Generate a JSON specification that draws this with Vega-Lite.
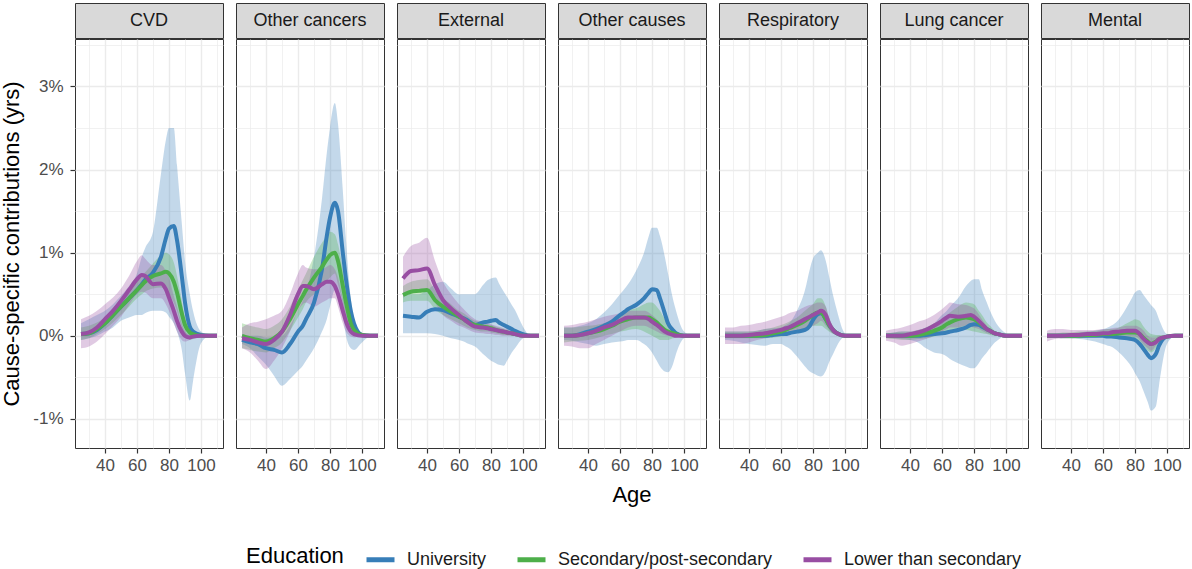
{
  "$schema": "https://vega.github.io/schema/vega-lite/v6.json",
  "padding": {"left": 0, "top": 2, "right": 2, "bottom": 2},
  "config": {
    "font": "Liberation Sans",
    "view": {"stroke": "#333333", "strokeWidth": 1},
    "axis": {"domain": false, "gridColor": "#EBEBEB", "tickColor": "#333333", "tickSize": 5, "tickWidth": 1.2, "labelColor": "#4D4D4D", "labelFontSize": 17, "labelFont": "Liberation Sans", "titleFont": "Liberation Sans", "titleFontSize": 22, "titleFontWeight": "normal", "titleColor": "#000000"},
    "legend": {"direction": "horizontal", "titleOrient": "left", "titleFontSize": 22, "titleFontWeight": "normal", "titleColor": "#000000", "titleFont": "Liberation Sans", "labelFont": "Liberation Sans", "labelFontSize": 18, "labelColor": "#1A1A1A", "labelLimit": 0, "symbolType": "stroke", "symbolSize": 784, "symbolStrokeWidth": 5, "symbolOpacity": 1, "columnPadding": 20, "labelOffset": 10, "titlePadding": 20}
  },
  "datasets": {
    "strips": [{"c": "CVD"}, {"c": "Other cancers"}, {"c": "External"}, {"c": "Other causes"}, {"c": "Respiratory"}, {"c": "Lung cancer"}, {"c": "Mental"}],
    "d": [
{"c":"CVD","e":"U","a":25,"y":0.02,"lo":-0.05,"hi":0.15},
{"c":"CVD","e":"U","a":30,"y":0.03,"lo":-0.03,"hi":0.2},
{"c":"CVD","e":"U","a":35,"y":0.07,"lo":0,"hi":0.25},
{"c":"CVD","e":"U","a":40,"y":0.15,"lo":0.05,"hi":0.3},
{"c":"CVD","e":"U","a":45,"y":0.25,"lo":0.1,"hi":0.38},
{"c":"CVD","e":"U","a":50,"y":0.35,"lo":0.18,"hi":0.48},
{"c":"CVD","e":"U","a":55,"y":0.45,"lo":0.22,"hi":0.6},
{"c":"CVD","e":"U","a":60,"y":0.55,"lo":0.25,"hi":0.75},
{"c":"CVD","e":"U","a":63,"y":0.62,"lo":0.25,"hi":0.95},
{"c":"CVD","e":"U","a":65,"y":0.67,"lo":0.27,"hi":1.05},
{"c":"CVD","e":"U","a":70,"y":0.76,"lo":0.3,"hi":1.25},
{"c":"CVD","e":"U","a":75,"y":0.95,"lo":0.3,"hi":1.95},
{"c":"CVD","e":"U","a":78,"y":1.17,"lo":0.28,"hi":2.35},
{"c":"CVD","e":"U","a":80,"y":1.29,"lo":0.23,"hi":2.5},
{"c":"CVD","e":"U","a":83,"y":1.32,"lo":0.15,"hi":2.5},
{"c":"CVD","e":"U","a":85,"y":1.15,"lo":0.05,"hi":2.05},
{"c":"CVD","e":"U","a":88,"y":0.72,"lo":-0.17,"hi":1.35},
{"c":"CVD","e":"U","a":90,"y":0.4,"lo":-0.45,"hi":0.9},
{"c":"CVD","e":"U","a":93,"y":0.11,"lo":-0.78,"hi":0.5},
{"c":"CVD","e":"U","a":95,"y":0.05,"lo":-0.55,"hi":0.3},
{"c":"CVD","e":"U","a":100,"y":0.01,"lo":-0.09,"hi":0.05},
{"c":"CVD","e":"U","a":105,"y":0,"lo":-0.01,"hi":0.01},
{"c":"CVD","e":"U","a":110,"y":0,"lo":0,"hi":0},
{"c":"CVD","e":"S","a":25,"y":0.02,"lo":-0.05,"hi":0.1},
{"c":"CVD","e":"S","a":30,"y":0.03,"lo":-0.03,"hi":0.12},
{"c":"CVD","e":"S","a":35,"y":0.08,"lo":0.02,"hi":0.16},
{"c":"CVD","e":"S","a":40,"y":0.15,"lo":0.08,"hi":0.22},
{"c":"CVD","e":"S","a":45,"y":0.25,"lo":0.16,"hi":0.33},
{"c":"CVD","e":"S","a":50,"y":0.35,"lo":0.25,"hi":0.45},
{"c":"CVD","e":"S","a":55,"y":0.45,"lo":0.35,"hi":0.55},
{"c":"CVD","e":"S","a":60,"y":0.55,"lo":0.45,"hi":0.66},
{"c":"CVD","e":"S","a":63,"y":0.61,"lo":0.5,"hi":0.72},
{"c":"CVD","e":"S","a":65,"y":0.65,"lo":0.53,"hi":0.76},
{"c":"CVD","e":"S","a":70,"y":0.72,"lo":0.57,"hi":0.87},
{"c":"CVD","e":"S","a":75,"y":0.75,"lo":0.58,"hi":0.97},
{"c":"CVD","e":"S","a":78,"y":0.77,"lo":0.55,"hi":1.0},
{"c":"CVD","e":"S","a":80,"y":0.75,"lo":0.5,"hi":0.98},
{"c":"CVD","e":"S","a":83,"y":0.65,"lo":0.4,"hi":0.88},
{"c":"CVD","e":"S","a":85,"y":0.52,"lo":0.3,"hi":0.72},
{"c":"CVD","e":"S","a":88,"y":0.27,"lo":0.1,"hi":0.42},
{"c":"CVD","e":"S","a":90,"y":0.13,"lo":0.02,"hi":0.22},
{"c":"CVD","e":"S","a":93,"y":0.04,"lo":-0.05,"hi":0.1},
{"c":"CVD","e":"S","a":95,"y":0.02,"lo":-0.04,"hi":0.06},
{"c":"CVD","e":"S","a":100,"y":0,"lo":-0.01,"hi":0.01},
{"c":"CVD","e":"S","a":105,"y":0,"lo":0,"hi":0},
{"c":"CVD","e":"S","a":110,"y":0,"lo":0,"hi":0},
{"c":"CVD","e":"L","a":25,"y":0.02,"lo":-0.15,"hi":0.2},
{"c":"CVD","e":"L","a":30,"y":0.04,"lo":-0.13,"hi":0.24},
{"c":"CVD","e":"L","a":35,"y":0.1,"lo":-0.07,"hi":0.3},
{"c":"CVD","e":"L","a":40,"y":0.2,"lo":0.02,"hi":0.38},
{"c":"CVD","e":"L","a":45,"y":0.3,"lo":0.12,"hi":0.46},
{"c":"CVD","e":"L","a":50,"y":0.42,"lo":0.23,"hi":0.57},
{"c":"CVD","e":"L","a":55,"y":0.55,"lo":0.37,"hi":0.72},
{"c":"CVD","e":"L","a":60,"y":0.68,"lo":0.5,"hi":0.9},
{"c":"CVD","e":"L","a":63,"y":0.73,"lo":0.53,"hi":0.97},
{"c":"CVD","e":"L","a":65,"y":0.72,"lo":0.52,"hi":0.93},
{"c":"CVD","e":"L","a":70,"y":0.62,"lo":0.45,"hi":0.85},
{"c":"CVD","e":"L","a":75,"y":0.63,"lo":0.45,"hi":0.85},
{"c":"CVD","e":"L","a":78,"y":0.56,"lo":0.38,"hi":0.78},
{"c":"CVD","e":"L","a":80,"y":0.46,"lo":0.3,"hi":0.7},
{"c":"CVD","e":"L","a":83,"y":0.3,"lo":0.15,"hi":0.48},
{"c":"CVD","e":"L","a":85,"y":0.18,"lo":0.05,"hi":0.35},
{"c":"CVD","e":"L","a":88,"y":0.05,"lo":-0.05,"hi":0.15},
{"c":"CVD","e":"L","a":90,"y":0,"lo":-0.07,"hi":0.06},
{"c":"CVD","e":"L","a":93,"y":-0.02,"lo":-0.05,"hi":0.01},
{"c":"CVD","e":"L","a":95,"y":-0.01,"lo":-0.03,"hi":0},
{"c":"CVD","e":"L","a":100,"y":0,"lo":-0.01,"hi":0},
{"c":"CVD","e":"L","a":105,"y":0,"lo":0,"hi":0},
{"c":"CVD","e":"L","a":110,"y":0,"lo":0,"hi":0},
{"c":"Other cancers","e":"U","a":25,"y":-0.05,"lo":-0.1,"hi":0.02},
{"c":"Other cancers","e":"U","a":30,"y":-0.08,"lo":-0.15,"hi":0},
{"c":"Other cancers","e":"U","a":35,"y":-0.1,"lo":-0.25,"hi":0},
{"c":"Other cancers","e":"U","a":40,"y":-0.15,"lo":-0.35,"hi":-0.02},
{"c":"Other cancers","e":"U","a":45,"y":-0.17,"lo":-0.48,"hi":-0.02},
{"c":"Other cancers","e":"U","a":50,"y":-0.2,"lo":-0.6,"hi":0},
{"c":"Other cancers","e":"U","a":55,"y":-0.1,"lo":-0.52,"hi":0.12},
{"c":"Other cancers","e":"U","a":60,"y":0.05,"lo":-0.42,"hi":0.3},
{"c":"Other cancers","e":"U","a":63,"y":0.12,"lo":-0.36,"hi":0.42},
{"c":"Other cancers","e":"U","a":65,"y":0.2,"lo":-0.3,"hi":0.52},
{"c":"Other cancers","e":"U","a":70,"y":0.4,"lo":-0.15,"hi":0.95},
{"c":"Other cancers","e":"U","a":75,"y":0.8,"lo":0.05,"hi":1.65},
{"c":"Other cancers","e":"U","a":78,"y":1.2,"lo":0.2,"hi":2.2},
{"c":"Other cancers","e":"U","a":80,"y":1.42,"lo":0.35,"hi":2.5},
{"c":"Other cancers","e":"U","a":83,"y":1.6,"lo":0.55,"hi":2.8},
{"c":"Other cancers","e":"U","a":85,"y":1.5,"lo":0.45,"hi":2.55},
{"c":"Other cancers","e":"U","a":88,"y":1.0,"lo":0.25,"hi":1.75},
{"c":"Other cancers","e":"U","a":90,"y":0.68,"lo":0,"hi":1.15},
{"c":"Other cancers","e":"U","a":93,"y":0.3,"lo":-0.15,"hi":0.45},
{"c":"Other cancers","e":"U","a":95,"y":0.15,"lo":-0.17,"hi":0.2},
{"c":"Other cancers","e":"U","a":100,"y":0.01,"lo":-0.08,"hi":0.03},
{"c":"Other cancers","e":"U","a":105,"y":0,"lo":-0.01,"hi":0},
{"c":"Other cancers","e":"U","a":110,"y":0,"lo":0,"hi":0},
{"c":"Other cancers","e":"S","a":25,"y":0,"lo":-0.15,"hi":0.15},
{"c":"Other cancers","e":"S","a":30,"y":-0.03,"lo":-0.17,"hi":0.12},
{"c":"Other cancers","e":"S","a":35,"y":-0.05,"lo":-0.19,"hi":0.1},
{"c":"Other cancers","e":"S","a":40,"y":-0.07,"lo":-0.2,"hi":0.08},
{"c":"Other cancers","e":"S","a":45,"y":-0.03,"lo":-0.15,"hi":0.12},
{"c":"Other cancers","e":"S","a":50,"y":0.05,"lo":-0.08,"hi":0.2},
{"c":"Other cancers","e":"S","a":55,"y":0.2,"lo":0.06,"hi":0.35},
{"c":"Other cancers","e":"S","a":60,"y":0.38,"lo":0.22,"hi":0.55},
{"c":"Other cancers","e":"S","a":63,"y":0.48,"lo":0.32,"hi":0.67},
{"c":"Other cancers","e":"S","a":65,"y":0.55,"lo":0.4,"hi":0.75},
{"c":"Other cancers","e":"S","a":70,"y":0.7,"lo":0.5,"hi":0.95},
{"c":"Other cancers","e":"S","a":75,"y":0.83,"lo":0.6,"hi":1.12},
{"c":"Other cancers","e":"S","a":78,"y":0.92,"lo":0.66,"hi":1.2},
{"c":"Other cancers","e":"S","a":80,"y":0.97,"lo":0.7,"hi":1.25},
{"c":"Other cancers","e":"S","a":83,"y":1.0,"lo":0.75,"hi":1.22},
{"c":"Other cancers","e":"S","a":85,"y":0.9,"lo":0.62,"hi":1.1},
{"c":"Other cancers","e":"S","a":88,"y":0.6,"lo":0.4,"hi":0.8},
{"c":"Other cancers","e":"S","a":90,"y":0.4,"lo":0.22,"hi":0.55},
{"c":"Other cancers","e":"S","a":93,"y":0.15,"lo":0.05,"hi":0.25},
{"c":"Other cancers","e":"S","a":95,"y":0.07,"lo":0,"hi":0.15},
{"c":"Other cancers","e":"S","a":100,"y":0.01,"lo":0,"hi":0.02},
{"c":"Other cancers","e":"S","a":105,"y":0,"lo":0,"hi":0},
{"c":"Other cancers","e":"S","a":110,"y":0,"lo":0,"hi":0},
{"c":"Other cancers","e":"L","a":25,"y":-0.03,"lo":-0.15,"hi":0.1},
{"c":"Other cancers","e":"L","a":30,"y":-0.05,"lo":-0.2,"hi":0.15},
{"c":"Other cancers","e":"L","a":35,"y":-0.08,"lo":-0.3,"hi":0.17},
{"c":"Other cancers","e":"L","a":40,"y":-0.1,"lo":-0.4,"hi":0.2},
{"c":"Other cancers","e":"L","a":45,"y":-0.05,"lo":-0.3,"hi":0.24},
{"c":"Other cancers","e":"L","a":50,"y":0.05,"lo":-0.15,"hi":0.3},
{"c":"Other cancers","e":"L","a":55,"y":0.25,"lo":0.05,"hi":0.5},
{"c":"Other cancers","e":"L","a":60,"y":0.5,"lo":0.3,"hi":0.75},
{"c":"Other cancers","e":"L","a":63,"y":0.6,"lo":0.38,"hi":0.85},
{"c":"Other cancers","e":"L","a":65,"y":0.6,"lo":0.4,"hi":0.82},
{"c":"Other cancers","e":"L","a":70,"y":0.56,"lo":0.35,"hi":0.8},
{"c":"Other cancers","e":"L","a":75,"y":0.62,"lo":0.4,"hi":0.8},
{"c":"Other cancers","e":"L","a":78,"y":0.65,"lo":0.43,"hi":0.83},
{"c":"Other cancers","e":"L","a":80,"y":0.65,"lo":0.45,"hi":0.85},
{"c":"Other cancers","e":"L","a":83,"y":0.6,"lo":0.45,"hi":0.8},
{"c":"Other cancers","e":"L","a":85,"y":0.5,"lo":0.35,"hi":0.7},
{"c":"Other cancers","e":"L","a":88,"y":0.3,"lo":0.15,"hi":0.45},
{"c":"Other cancers","e":"L","a":90,"y":0.17,"lo":0.05,"hi":0.3},
{"c":"Other cancers","e":"L","a":93,"y":0.05,"lo":-0.01,"hi":0.12},
{"c":"Other cancers","e":"L","a":95,"y":0.02,"lo":-0.02,"hi":0.05},
{"c":"Other cancers","e":"L","a":100,"y":0,"lo":0,"hi":0},
{"c":"Other cancers","e":"L","a":105,"y":0,"lo":0,"hi":0},
{"c":"Other cancers","e":"L","a":110,"y":0,"lo":0,"hi":0},
{"c":"External","e":"U","a":25,"y":0.24,"lo":0.03,"hi":0.5},
{"c":"External","e":"U","a":30,"y":0.23,"lo":0.03,"hi":0.5},
{"c":"External","e":"U","a":35,"y":0.22,"lo":0.03,"hi":0.5},
{"c":"External","e":"U","a":40,"y":0.29,"lo":0.03,"hi":0.55},
{"c":"External","e":"U","a":45,"y":0.32,"lo":0.02,"hi":0.62},
{"c":"External","e":"U","a":50,"y":0.31,"lo":0,"hi":0.65},
{"c":"External","e":"U","a":55,"y":0.27,"lo":-0.03,"hi":0.57},
{"c":"External","e":"U","a":60,"y":0.23,"lo":-0.05,"hi":0.5},
{"c":"External","e":"U","a":63,"y":0.21,"lo":-0.07,"hi":0.5},
{"c":"External","e":"U","a":65,"y":0.19,"lo":-0.09,"hi":0.5},
{"c":"External","e":"U","a":70,"y":0.13,"lo":-0.13,"hi":0.5},
{"c":"External","e":"U","a":75,"y":0.16,"lo":-0.22,"hi":0.61},
{"c":"External","e":"U","a":78,"y":0.17,"lo":-0.27,"hi":0.67},
{"c":"External","e":"U","a":80,"y":0.18,"lo":-0.3,"hi":0.69},
{"c":"External","e":"U","a":83,"y":0.19,"lo":-0.33,"hi":0.7},
{"c":"External","e":"U","a":85,"y":0.16,"lo":-0.35,"hi":0.63},
{"c":"External","e":"U","a":88,"y":0.13,"lo":-0.36,"hi":0.53},
{"c":"External","e":"U","a":90,"y":0.11,"lo":-0.3,"hi":0.47},
{"c":"External","e":"U","a":93,"y":0.08,"lo":-0.2,"hi":0.37},
{"c":"External","e":"U","a":95,"y":0.06,"lo":-0.15,"hi":0.31},
{"c":"External","e":"U","a":100,"y":0.02,"lo":-0.03,"hi":0.11},
{"c":"External","e":"U","a":105,"y":0,"lo":0,"hi":0},
{"c":"External","e":"U","a":110,"y":0,"lo":0,"hi":0},
{"c":"External","e":"S","a":25,"y":0.49,"lo":0.4,"hi":0.6},
{"c":"External","e":"S","a":30,"y":0.53,"lo":0.42,"hi":0.65},
{"c":"External","e":"S","a":35,"y":0.54,"lo":0.42,"hi":0.67},
{"c":"External","e":"S","a":40,"y":0.55,"lo":0.42,"hi":0.68},
{"c":"External","e":"S","a":45,"y":0.43,"lo":0.32,"hi":0.55},
{"c":"External","e":"S","a":50,"y":0.35,"lo":0.25,"hi":0.45},
{"c":"External","e":"S","a":55,"y":0.29,"lo":0.2,"hi":0.38},
{"c":"External","e":"S","a":60,"y":0.23,"lo":0.15,"hi":0.3},
{"c":"External","e":"S","a":63,"y":0.2,"lo":0.12,"hi":0.27},
{"c":"External","e":"S","a":65,"y":0.17,"lo":0.1,"hi":0.24},
{"c":"External","e":"S","a":70,"y":0.13,"lo":0.07,"hi":0.18},
{"c":"External","e":"S","a":75,"y":0.11,"lo":0.05,"hi":0.16},
{"c":"External","e":"S","a":78,"y":0.1,"lo":0.05,"hi":0.14},
{"c":"External","e":"S","a":80,"y":0.09,"lo":0.04,"hi":0.13},
{"c":"External","e":"S","a":83,"y":0.07,"lo":0.03,"hi":0.11},
{"c":"External","e":"S","a":85,"y":0.06,"lo":0.02,"hi":0.1},
{"c":"External","e":"S","a":88,"y":0.05,"lo":0.01,"hi":0.08},
{"c":"External","e":"S","a":90,"y":0.04,"lo":0.01,"hi":0.07},
{"c":"External","e":"S","a":93,"y":0.03,"lo":0,"hi":0.05},
{"c":"External","e":"S","a":95,"y":0.02,"lo":0,"hi":0.04},
{"c":"External","e":"S","a":100,"y":0,"lo":0,"hi":0.01},
{"c":"External","e":"S","a":105,"y":0,"lo":0,"hi":0},
{"c":"External","e":"S","a":110,"y":0,"lo":0,"hi":0},
{"c":"External","e":"L","a":25,"y":0.69,"lo":0.45,"hi":0.95},
{"c":"External","e":"L","a":30,"y":0.78,"lo":0.55,"hi":1.08},
{"c":"External","e":"L","a":35,"y":0.79,"lo":0.55,"hi":1.12},
{"c":"External","e":"L","a":40,"y":0.81,"lo":0.55,"hi":1.18},
{"c":"External","e":"L","a":45,"y":0.61,"lo":0.4,"hi":0.9},
{"c":"External","e":"L","a":50,"y":0.43,"lo":0.25,"hi":0.65},
{"c":"External","e":"L","a":55,"y":0.33,"lo":0.18,"hi":0.5},
{"c":"External","e":"L","a":60,"y":0.25,"lo":0.12,"hi":0.38},
{"c":"External","e":"L","a":63,"y":0.2,"lo":0.1,"hi":0.32},
{"c":"External","e":"L","a":65,"y":0.17,"lo":0.08,"hi":0.28},
{"c":"External","e":"L","a":70,"y":0.11,"lo":0.04,"hi":0.2},
{"c":"External","e":"L","a":75,"y":0.1,"lo":0.03,"hi":0.17},
{"c":"External","e":"L","a":78,"y":0.09,"lo":0.02,"hi":0.15},
{"c":"External","e":"L","a":80,"y":0.08,"lo":0.02,"hi":0.14},
{"c":"External","e":"L","a":83,"y":0.07,"lo":0.01,"hi":0.12},
{"c":"External","e":"L","a":85,"y":0.06,"lo":0.01,"hi":0.11},
{"c":"External","e":"L","a":88,"y":0.05,"lo":0,"hi":0.09},
{"c":"External","e":"L","a":90,"y":0.04,"lo":0,"hi":0.08},
{"c":"External","e":"L","a":93,"y":0.03,"lo":0,"hi":0.05},
{"c":"External","e":"L","a":95,"y":0.02,"lo":0,"hi":0.04},
{"c":"External","e":"L","a":100,"y":0,"lo":0,"hi":0.01},
{"c":"External","e":"L","a":105,"y":0,"lo":0,"hi":0},
{"c":"External","e":"L","a":110,"y":0,"lo":0,"hi":0},
{"c":"Other causes","e":"U","a":25,"y":0,"lo":-0.05,"hi":0.1},
{"c":"Other causes","e":"U","a":30,"y":0,"lo":-0.06,"hi":0.1},
{"c":"Other causes","e":"U","a":35,"y":0.02,"lo":-0.08,"hi":0.12},
{"c":"Other causes","e":"U","a":40,"y":0.05,"lo":-0.1,"hi":0.15},
{"c":"Other causes","e":"U","a":45,"y":0.08,"lo":-0.12,"hi":0.2},
{"c":"Other causes","e":"U","a":50,"y":0.12,"lo":-0.1,"hi":0.28},
{"c":"Other causes","e":"U","a":55,"y":0.17,"lo":-0.08,"hi":0.38},
{"c":"Other causes","e":"U","a":60,"y":0.25,"lo":-0.07,"hi":0.5},
{"c":"Other causes","e":"U","a":63,"y":0.29,"lo":-0.06,"hi":0.57},
{"c":"Other causes","e":"U","a":65,"y":0.32,"lo":-0.05,"hi":0.62},
{"c":"Other causes","e":"U","a":70,"y":0.37,"lo":-0.05,"hi":0.78},
{"c":"Other causes","e":"U","a":75,"y":0.45,"lo":-0.1,"hi":1.0},
{"c":"Other causes","e":"U","a":78,"y":0.52,"lo":-0.15,"hi":1.2},
{"c":"Other causes","e":"U","a":80,"y":0.56,"lo":-0.2,"hi":1.3},
{"c":"Other causes","e":"U","a":83,"y":0.55,"lo":-0.3,"hi":1.3},
{"c":"Other causes","e":"U","a":85,"y":0.45,"lo":-0.37,"hi":1.2},
{"c":"Other causes","e":"U","a":88,"y":0.27,"lo":-0.43,"hi":0.95},
{"c":"Other causes","e":"U","a":90,"y":0.15,"lo":-0.44,"hi":0.75},
{"c":"Other causes","e":"U","a":93,"y":0.07,"lo":-0.35,"hi":0.45},
{"c":"Other causes","e":"U","a":95,"y":0.03,"lo":-0.22,"hi":0.3},
{"c":"Other causes","e":"U","a":100,"y":0,"lo":-0.03,"hi":0.05},
{"c":"Other causes","e":"U","a":105,"y":0,"lo":0,"hi":0},
{"c":"Other causes","e":"U","a":110,"y":0,"lo":0,"hi":0},
{"c":"Other causes","e":"S","a":25,"y":0,"lo":-0.08,"hi":0.1},
{"c":"Other causes","e":"S","a":30,"y":0,"lo":-0.07,"hi":0.1},
{"c":"Other causes","e":"S","a":35,"y":0.01,"lo":-0.06,"hi":0.11},
{"c":"Other causes","e":"S","a":40,"y":0.03,"lo":-0.05,"hi":0.12},
{"c":"Other causes","e":"S","a":45,"y":0.05,"lo":-0.03,"hi":0.13},
{"c":"Other causes","e":"S","a":50,"y":0.08,"lo":0,"hi":0.15},
{"c":"Other causes","e":"S","a":55,"y":0.12,"lo":0.02,"hi":0.2},
{"c":"Other causes","e":"S","a":60,"y":0.17,"lo":0.05,"hi":0.25},
{"c":"Other causes","e":"S","a":63,"y":0.19,"lo":0.06,"hi":0.29},
{"c":"Other causes","e":"S","a":65,"y":0.2,"lo":0.07,"hi":0.31},
{"c":"Other causes","e":"S","a":70,"y":0.22,"lo":0.08,"hi":0.33},
{"c":"Other causes","e":"S","a":75,"y":0.22,"lo":0.05,"hi":0.38},
{"c":"Other causes","e":"S","a":78,"y":0.22,"lo":0.02,"hi":0.4},
{"c":"Other causes","e":"S","a":80,"y":0.2,"lo":0,"hi":0.4},
{"c":"Other causes","e":"S","a":83,"y":0.16,"lo":-0.03,"hi":0.35},
{"c":"Other causes","e":"S","a":85,"y":0.12,"lo":-0.05,"hi":0.3},
{"c":"Other causes","e":"S","a":88,"y":0.07,"lo":-0.05,"hi":0.2},
{"c":"Other causes","e":"S","a":90,"y":0.05,"lo":-0.05,"hi":0.15},
{"c":"Other causes","e":"S","a":93,"y":0.03,"lo":-0.03,"hi":0.08},
{"c":"Other causes","e":"S","a":95,"y":0.02,"lo":-0.02,"hi":0.05},
{"c":"Other causes","e":"S","a":100,"y":0,"lo":0,"hi":0.01},
{"c":"Other causes","e":"S","a":105,"y":0,"lo":0,"hi":0},
{"c":"Other causes","e":"S","a":110,"y":0,"lo":0,"hi":0},
{"c":"Other causes","e":"L","a":25,"y":0,"lo":-0.12,"hi":0.12},
{"c":"Other causes","e":"L","a":30,"y":0,"lo":-0.13,"hi":0.13},
{"c":"Other causes","e":"L","a":35,"y":0.01,"lo":-0.15,"hi":0.15},
{"c":"Other causes","e":"L","a":40,"y":0.03,"lo":-0.15,"hi":0.17},
{"c":"Other causes","e":"L","a":45,"y":0.06,"lo":-0.1,"hi":0.2},
{"c":"Other causes","e":"L","a":50,"y":0.1,"lo":-0.05,"hi":0.23},
{"c":"Other causes","e":"L","a":55,"y":0.13,"lo":0,"hi":0.25},
{"c":"Other causes","e":"L","a":60,"y":0.18,"lo":0.05,"hi":0.27},
{"c":"Other causes","e":"L","a":63,"y":0.21,"lo":0.08,"hi":0.29},
{"c":"Other causes","e":"L","a":65,"y":0.22,"lo":0.1,"hi":0.3},
{"c":"Other causes","e":"L","a":70,"y":0.22,"lo":0.12,"hi":0.3},
{"c":"Other causes","e":"L","a":75,"y":0.22,"lo":0.12,"hi":0.3},
{"c":"Other causes","e":"L","a":78,"y":0.2,"lo":0.1,"hi":0.28},
{"c":"Other causes","e":"L","a":80,"y":0.17,"lo":0.08,"hi":0.25},
{"c":"Other causes","e":"L","a":83,"y":0.13,"lo":0.05,"hi":0.2},
{"c":"Other causes","e":"L","a":85,"y":0.1,"lo":0.03,"hi":0.15},
{"c":"Other causes","e":"L","a":88,"y":0.05,"lo":0.01,"hi":0.09},
{"c":"Other causes","e":"L","a":90,"y":0.03,"lo":0,"hi":0.05},
{"c":"Other causes","e":"L","a":93,"y":0.01,"lo":0,"hi":0.02},
{"c":"Other causes","e":"L","a":95,"y":0,"lo":0,"hi":0.01},
{"c":"Other causes","e":"L","a":100,"y":0,"lo":0,"hi":0},
{"c":"Other causes","e":"L","a":105,"y":0,"lo":0,"hi":0},
{"c":"Other causes","e":"L","a":110,"y":0,"lo":0,"hi":0},
{"c":"Respiratory","e":"U","a":25,"y":0,"lo":-0.05,"hi":0.05},
{"c":"Respiratory","e":"U","a":30,"y":0,"lo":-0.06,"hi":0.05},
{"c":"Respiratory","e":"U","a":35,"y":0,"lo":-0.08,"hi":0.05},
{"c":"Respiratory","e":"U","a":40,"y":0,"lo":-0.1,"hi":0.05},
{"c":"Respiratory","e":"U","a":45,"y":0,"lo":-0.11,"hi":0.06},
{"c":"Respiratory","e":"U","a":50,"y":0,"lo":-0.12,"hi":0.08},
{"c":"Respiratory","e":"U","a":55,"y":0.01,"lo":-0.1,"hi":0.09},
{"c":"Respiratory","e":"U","a":60,"y":0.02,"lo":-0.1,"hi":0.1},
{"c":"Respiratory","e":"U","a":63,"y":0.02,"lo":-0.13,"hi":0.13},
{"c":"Respiratory","e":"U","a":65,"y":0.03,"lo":-0.15,"hi":0.15},
{"c":"Respiratory","e":"U","a":70,"y":0.05,"lo":-0.25,"hi":0.3},
{"c":"Respiratory","e":"U","a":75,"y":0.07,"lo":-0.37,"hi":0.55},
{"c":"Respiratory","e":"U","a":78,"y":0.12,"lo":-0.43,"hi":0.8},
{"c":"Respiratory","e":"U","a":80,"y":0.19,"lo":-0.45,"hi":0.93},
{"c":"Respiratory","e":"U","a":83,"y":0.26,"lo":-0.48,"hi":1.0},
{"c":"Respiratory","e":"U","a":85,"y":0.27,"lo":-0.49,"hi":1.03},
{"c":"Respiratory","e":"U","a":88,"y":0.2,"lo":-0.42,"hi":0.9},
{"c":"Respiratory","e":"U","a":90,"y":0.13,"lo":-0.32,"hi":0.72},
{"c":"Respiratory","e":"U","a":93,"y":0.06,"lo":-0.2,"hi":0.45},
{"c":"Respiratory","e":"U","a":95,"y":0.03,"lo":-0.12,"hi":0.3},
{"c":"Respiratory","e":"U","a":100,"y":0,"lo":-0.01,"hi":0.03},
{"c":"Respiratory","e":"U","a":105,"y":0,"lo":0,"hi":0},
{"c":"Respiratory","e":"U","a":110,"y":0,"lo":0,"hi":0},
{"c":"Respiratory","e":"S","a":25,"y":0,"lo":-0.03,"hi":0.05},
{"c":"Respiratory","e":"S","a":30,"y":0,"lo":-0.03,"hi":0.05},
{"c":"Respiratory","e":"S","a":35,"y":0,"lo":-0.03,"hi":0.05},
{"c":"Respiratory","e":"S","a":40,"y":0,"lo":-0.03,"hi":0.05},
{"c":"Respiratory","e":"S","a":45,"y":0,"lo":-0.03,"hi":0.06},
{"c":"Respiratory","e":"S","a":50,"y":0.01,"lo":-0.03,"hi":0.08},
{"c":"Respiratory","e":"S","a":55,"y":0.03,"lo":-0.02,"hi":0.1},
{"c":"Respiratory","e":"S","a":60,"y":0.05,"lo":-0.01,"hi":0.13},
{"c":"Respiratory","e":"S","a":63,"y":0.07,"lo":0,"hi":0.15},
{"c":"Respiratory","e":"S","a":65,"y":0.09,"lo":0.02,"hi":0.17},
{"c":"Respiratory","e":"S","a":70,"y":0.13,"lo":0.05,"hi":0.22},
{"c":"Respiratory","e":"S","a":75,"y":0.18,"lo":0.08,"hi":0.3},
{"c":"Respiratory","e":"S","a":78,"y":0.22,"lo":0.1,"hi":0.35},
{"c":"Respiratory","e":"S","a":80,"y":0.25,"lo":0.12,"hi":0.38},
{"c":"Respiratory","e":"S","a":83,"y":0.28,"lo":0.12,"hi":0.45},
{"c":"Respiratory","e":"S","a":85,"y":0.28,"lo":0.12,"hi":0.45},
{"c":"Respiratory","e":"S","a":88,"y":0.2,"lo":0.08,"hi":0.35},
{"c":"Respiratory","e":"S","a":90,"y":0.13,"lo":0.05,"hi":0.22},
{"c":"Respiratory","e":"S","a":93,"y":0.06,"lo":0.02,"hi":0.1},
{"c":"Respiratory","e":"S","a":95,"y":0.03,"lo":0.01,"hi":0.06},
{"c":"Respiratory","e":"S","a":100,"y":0,"lo":0,"hi":0},
{"c":"Respiratory","e":"S","a":105,"y":0,"lo":0,"hi":0},
{"c":"Respiratory","e":"S","a":110,"y":0,"lo":0,"hi":0},
{"c":"Respiratory","e":"L","a":25,"y":0,"lo":-0.1,"hi":0.1},
{"c":"Respiratory","e":"L","a":30,"y":0,"lo":-0.1,"hi":0.1},
{"c":"Respiratory","e":"L","a":35,"y":0,"lo":-0.1,"hi":0.12},
{"c":"Respiratory","e":"L","a":40,"y":0.01,"lo":-0.08,"hi":0.13},
{"c":"Respiratory","e":"L","a":45,"y":0.02,"lo":-0.05,"hi":0.15},
{"c":"Respiratory","e":"L","a":50,"y":0.03,"lo":-0.03,"hi":0.17},
{"c":"Respiratory","e":"L","a":55,"y":0.05,"lo":-0.01,"hi":0.2},
{"c":"Respiratory","e":"L","a":60,"y":0.07,"lo":0,"hi":0.23},
{"c":"Respiratory","e":"L","a":63,"y":0.09,"lo":0.01,"hi":0.25},
{"c":"Respiratory","e":"L","a":65,"y":0.1,"lo":0.02,"hi":0.27},
{"c":"Respiratory","e":"L","a":70,"y":0.15,"lo":0.05,"hi":0.3},
{"c":"Respiratory","e":"L","a":75,"y":0.2,"lo":0.08,"hi":0.35},
{"c":"Respiratory","e":"L","a":78,"y":0.23,"lo":0.1,"hi":0.37},
{"c":"Respiratory","e":"L","a":80,"y":0.25,"lo":0.12,"hi":0.38},
{"c":"Respiratory","e":"L","a":83,"y":0.28,"lo":0.15,"hi":0.4},
{"c":"Respiratory","e":"L","a":85,"y":0.3,"lo":0.18,"hi":0.4},
{"c":"Respiratory","e":"L","a":88,"y":0.25,"lo":0.12,"hi":0.35},
{"c":"Respiratory","e":"L","a":90,"y":0.15,"lo":0.07,"hi":0.22},
{"c":"Respiratory","e":"L","a":93,"y":0.06,"lo":0.02,"hi":0.1},
{"c":"Respiratory","e":"L","a":95,"y":0.03,"lo":0.01,"hi":0.05},
{"c":"Respiratory","e":"L","a":100,"y":0,"lo":0,"hi":0},
{"c":"Respiratory","e":"L","a":105,"y":0,"lo":0,"hi":0},
{"c":"Respiratory","e":"L","a":110,"y":0,"lo":0,"hi":0},
{"c":"Lung cancer","e":"U","a":25,"y":0,"lo":-0.02,"hi":0.03},
{"c":"Lung cancer","e":"U","a":30,"y":0,"lo":-0.03,"hi":0.04},
{"c":"Lung cancer","e":"U","a":35,"y":0,"lo":-0.04,"hi":0.05},
{"c":"Lung cancer","e":"U","a":40,"y":0,"lo":-0.05,"hi":0.05},
{"c":"Lung cancer","e":"U","a":45,"y":0,"lo":-0.08,"hi":0.07},
{"c":"Lung cancer","e":"U","a":50,"y":0.01,"lo":-0.15,"hi":0.1},
{"c":"Lung cancer","e":"U","a":55,"y":0.02,"lo":-0.2,"hi":0.15},
{"c":"Lung cancer","e":"U","a":60,"y":0.03,"lo":-0.22,"hi":0.25},
{"c":"Lung cancer","e":"U","a":63,"y":0.04,"lo":-0.25,"hi":0.3},
{"c":"Lung cancer","e":"U","a":65,"y":0.05,"lo":-0.28,"hi":0.35},
{"c":"Lung cancer","e":"U","a":70,"y":0.07,"lo":-0.33,"hi":0.45},
{"c":"Lung cancer","e":"U","a":75,"y":0.1,"lo":-0.37,"hi":0.6},
{"c":"Lung cancer","e":"U","a":78,"y":0.13,"lo":-0.39,"hi":0.66},
{"c":"Lung cancer","e":"U","a":80,"y":0.14,"lo":-0.39,"hi":0.68},
{"c":"Lung cancer","e":"U","a":83,"y":0.13,"lo":-0.33,"hi":0.68},
{"c":"Lung cancer","e":"U","a":85,"y":0.11,"lo":-0.27,"hi":0.55},
{"c":"Lung cancer","e":"U","a":88,"y":0.08,"lo":-0.2,"hi":0.4},
{"c":"Lung cancer","e":"U","a":90,"y":0.06,"lo":-0.15,"hi":0.3},
{"c":"Lung cancer","e":"U","a":93,"y":0.03,"lo":-0.08,"hi":0.18},
{"c":"Lung cancer","e":"U","a":95,"y":0.02,"lo":-0.05,"hi":0.12},
{"c":"Lung cancer","e":"U","a":100,"y":0,"lo":0,"hi":0.03},
{"c":"Lung cancer","e":"U","a":105,"y":0,"lo":0,"hi":0},
{"c":"Lung cancer","e":"U","a":110,"y":0,"lo":0,"hi":0},
{"c":"Lung cancer","e":"S","a":25,"y":0,"lo":-0.03,"hi":0.03},
{"c":"Lung cancer","e":"S","a":30,"y":0,"lo":-0.04,"hi":0.04},
{"c":"Lung cancer","e":"S","a":35,"y":0,"lo":-0.05,"hi":0.05},
{"c":"Lung cancer","e":"S","a":40,"y":0,"lo":-0.05,"hi":0.05},
{"c":"Lung cancer","e":"S","a":45,"y":0.01,"lo":-0.04,"hi":0.07},
{"c":"Lung cancer","e":"S","a":50,"y":0.03,"lo":-0.03,"hi":0.1},
{"c":"Lung cancer","e":"S","a":55,"y":0.06,"lo":-0.01,"hi":0.15},
{"c":"Lung cancer","e":"S","a":60,"y":0.1,"lo":0.02,"hi":0.2},
{"c":"Lung cancer","e":"S","a":63,"y":0.14,"lo":0.04,"hi":0.25},
{"c":"Lung cancer","e":"S","a":65,"y":0.16,"lo":0.05,"hi":0.28},
{"c":"Lung cancer","e":"S","a":70,"y":0.2,"lo":0.07,"hi":0.35},
{"c":"Lung cancer","e":"S","a":75,"y":0.22,"lo":0.07,"hi":0.4},
{"c":"Lung cancer","e":"S","a":78,"y":0.21,"lo":0.06,"hi":0.39},
{"c":"Lung cancer","e":"S","a":80,"y":0.2,"lo":0.05,"hi":0.38},
{"c":"Lung cancer","e":"S","a":83,"y":0.16,"lo":0.04,"hi":0.3},
{"c":"Lung cancer","e":"S","a":85,"y":0.13,"lo":0.03,"hi":0.25},
{"c":"Lung cancer","e":"S","a":88,"y":0.08,"lo":0.02,"hi":0.16},
{"c":"Lung cancer","e":"S","a":90,"y":0.06,"lo":0.01,"hi":0.12},
{"c":"Lung cancer","e":"S","a":93,"y":0.03,"lo":0,"hi":0.06},
{"c":"Lung cancer","e":"S","a":95,"y":0.02,"lo":0,"hi":0.04},
{"c":"Lung cancer","e":"S","a":100,"y":0,"lo":0,"hi":0},
{"c":"Lung cancer","e":"S","a":105,"y":0,"lo":0,"hi":0},
{"c":"Lung cancer","e":"S","a":110,"y":0,"lo":0,"hi":0},
{"c":"Lung cancer","e":"L","a":25,"y":0,"lo":-0.06,"hi":0.06},
{"c":"Lung cancer","e":"L","a":30,"y":0,"lo":-0.08,"hi":0.08},
{"c":"Lung cancer","e":"L","a":35,"y":0,"lo":-0.12,"hi":0.1},
{"c":"Lung cancer","e":"L","a":40,"y":0.02,"lo":-0.1,"hi":0.13},
{"c":"Lung cancer","e":"L","a":45,"y":0.04,"lo":-0.07,"hi":0.17},
{"c":"Lung cancer","e":"L","a":50,"y":0.07,"lo":-0.04,"hi":0.2},
{"c":"Lung cancer","e":"L","a":55,"y":0.12,"lo":0,"hi":0.25},
{"c":"Lung cancer","e":"L","a":60,"y":0.18,"lo":0.05,"hi":0.32},
{"c":"Lung cancer","e":"L","a":63,"y":0.22,"lo":0.08,"hi":0.37},
{"c":"Lung cancer","e":"L","a":65,"y":0.24,"lo":0.1,"hi":0.4},
{"c":"Lung cancer","e":"L","a":70,"y":0.23,"lo":0.1,"hi":0.38},
{"c":"Lung cancer","e":"L","a":75,"y":0.24,"lo":0.12,"hi":0.37},
{"c":"Lung cancer","e":"L","a":78,"y":0.25,"lo":0.11,"hi":0.35},
{"c":"Lung cancer","e":"L","a":80,"y":0.23,"lo":0.1,"hi":0.33},
{"c":"Lung cancer","e":"L","a":83,"y":0.18,"lo":0.08,"hi":0.26},
{"c":"Lung cancer","e":"L","a":85,"y":0.14,"lo":0.06,"hi":0.2},
{"c":"Lung cancer","e":"L","a":88,"y":0.08,"lo":0.03,"hi":0.12},
{"c":"Lung cancer","e":"L","a":90,"y":0.06,"lo":0.02,"hi":0.08},
{"c":"Lung cancer","e":"L","a":93,"y":0.03,"lo":0.01,"hi":0.04},
{"c":"Lung cancer","e":"L","a":95,"y":0.02,"lo":0,"hi":0.02},
{"c":"Lung cancer","e":"L","a":100,"y":0,"lo":0,"hi":0},
{"c":"Lung cancer","e":"L","a":105,"y":0,"lo":0,"hi":0},
{"c":"Lung cancer","e":"L","a":110,"y":0,"lo":0,"hi":0},
{"c":"Mental","e":"U","a":25,"y":0,"lo":-0.02,"hi":0.02},
{"c":"Mental","e":"U","a":30,"y":0,"lo":-0.02,"hi":0.02},
{"c":"Mental","e":"U","a":35,"y":0,"lo":-0.03,"hi":0.03},
{"c":"Mental","e":"U","a":40,"y":0,"lo":-0.03,"hi":0.03},
{"c":"Mental","e":"U","a":45,"y":0,"lo":-0.04,"hi":0.04},
{"c":"Mental","e":"U","a":50,"y":0,"lo":-0.05,"hi":0.05},
{"c":"Mental","e":"U","a":55,"y":0,"lo":-0.07,"hi":0.06},
{"c":"Mental","e":"U","a":60,"y":0,"lo":-0.1,"hi":0.08},
{"c":"Mental","e":"U","a":63,"y":-0.01,"lo":-0.12,"hi":0.1},
{"c":"Mental","e":"U","a":65,"y":-0.01,"lo":-0.13,"hi":0.12},
{"c":"Mental","e":"U","a":70,"y":-0.02,"lo":-0.2,"hi":0.2},
{"c":"Mental","e":"U","a":75,"y":-0.03,"lo":-0.3,"hi":0.35},
{"c":"Mental","e":"U","a":78,"y":-0.04,"lo":-0.38,"hi":0.45},
{"c":"Mental","e":"U","a":80,"y":-0.05,"lo":-0.45,"hi":0.52},
{"c":"Mental","e":"U","a":83,"y":-0.1,"lo":-0.55,"hi":0.55},
{"c":"Mental","e":"U","a":85,"y":-0.15,"lo":-0.65,"hi":0.5},
{"c":"Mental","e":"U","a":88,"y":-0.23,"lo":-0.8,"hi":0.42},
{"c":"Mental","e":"U","a":90,"y":-0.27,"lo":-0.9,"hi":0.37},
{"c":"Mental","e":"U","a":93,"y":-0.22,"lo":-0.85,"hi":0.3},
{"c":"Mental","e":"U","a":95,"y":-0.12,"lo":-0.6,"hi":0.2},
{"c":"Mental","e":"U","a":100,"y":-0.01,"lo":-0.1,"hi":0.02},
{"c":"Mental","e":"U","a":105,"y":0,"lo":-0.01,"hi":0},
{"c":"Mental","e":"U","a":110,"y":0,"lo":0,"hi":0},
{"c":"Mental","e":"S","a":25,"y":0,"lo":-0.02,"hi":0.03},
{"c":"Mental","e":"S","a":30,"y":0,"lo":-0.02,"hi":0.03},
{"c":"Mental","e":"S","a":35,"y":0,"lo":-0.03,"hi":0.04},
{"c":"Mental","e":"S","a":40,"y":0,"lo":-0.03,"hi":0.04},
{"c":"Mental","e":"S","a":45,"y":0,"lo":-0.03,"hi":0.05},
{"c":"Mental","e":"S","a":50,"y":0.01,"lo":-0.02,"hi":0.05},
{"c":"Mental","e":"S","a":55,"y":0.01,"lo":-0.02,"hi":0.06},
{"c":"Mental","e":"S","a":60,"y":0.02,"lo":-0.01,"hi":0.07},
{"c":"Mental","e":"S","a":63,"y":0.02,"lo":-0.01,"hi":0.08},
{"c":"Mental","e":"S","a":65,"y":0.02,"lo":0,"hi":0.08},
{"c":"Mental","e":"S","a":70,"y":0.03,"lo":0,"hi":0.1},
{"c":"Mental","e":"S","a":75,"y":0.04,"lo":-0.02,"hi":0.15},
{"c":"Mental","e":"S","a":78,"y":0.04,"lo":-0.04,"hi":0.18},
{"c":"Mental","e":"S","a":80,"y":0.04,"lo":-0.05,"hi":0.2},
{"c":"Mental","e":"S","a":83,"y":0.02,"lo":-0.09,"hi":0.18},
{"c":"Mental","e":"S","a":85,"y":-0.02,"lo":-0.12,"hi":0.12},
{"c":"Mental","e":"S","a":88,"y":-0.07,"lo":-0.18,"hi":0.05},
{"c":"Mental","e":"S","a":90,"y":-0.1,"lo":-0.2,"hi":0.02},
{"c":"Mental","e":"S","a":93,"y":-0.07,"lo":-0.15,"hi":0.01},
{"c":"Mental","e":"S","a":95,"y":-0.04,"lo":-0.08,"hi":0.01},
{"c":"Mental","e":"S","a":100,"y":-0.01,"lo":-0.02,"hi":0},
{"c":"Mental","e":"S","a":105,"y":0,"lo":0,"hi":0},
{"c":"Mental","e":"S","a":110,"y":0,"lo":0,"hi":0},
{"c":"Mental","e":"L","a":25,"y":0,"lo":-0.07,"hi":0.06},
{"c":"Mental","e":"L","a":30,"y":0,"lo":-0.04,"hi":0.08},
{"c":"Mental","e":"L","a":35,"y":0,"lo":-0.03,"hi":0.08},
{"c":"Mental","e":"L","a":40,"y":0.01,"lo":-0.03,"hi":0.07},
{"c":"Mental","e":"L","a":45,"y":0.01,"lo":-0.02,"hi":0.07},
{"c":"Mental","e":"L","a":50,"y":0.02,"lo":-0.02,"hi":0.07},
{"c":"Mental","e":"L","a":55,"y":0.02,"lo":-0.01,"hi":0.07},
{"c":"Mental","e":"L","a":60,"y":0.03,"lo":-0.01,"hi":0.08},
{"c":"Mental","e":"L","a":63,"y":0.03,"lo":0,"hi":0.08},
{"c":"Mental","e":"L","a":65,"y":0.04,"lo":0,"hi":0.09},
{"c":"Mental","e":"L","a":70,"y":0.05,"lo":0,"hi":0.1},
{"c":"Mental","e":"L","a":75,"y":0.06,"lo":0,"hi":0.12},
{"c":"Mental","e":"L","a":78,"y":0.06,"lo":-0.01,"hi":0.12},
{"c":"Mental","e":"L","a":80,"y":0.06,"lo":-0.01,"hi":0.12},
{"c":"Mental","e":"L","a":83,"y":0.02,"lo":-0.05,"hi":0.1},
{"c":"Mental","e":"L","a":85,"y":-0.03,"lo":-0.1,"hi":0.07},
{"c":"Mental","e":"L","a":88,"y":-0.08,"lo":-0.15,"hi":0},
{"c":"Mental","e":"L","a":90,"y":-0.1,"lo":-0.18,"hi":-0.02},
{"c":"Mental","e":"L","a":93,"y":-0.08,"lo":-0.12,"hi":-0.02},
{"c":"Mental","e":"L","a":95,"y":-0.04,"lo":-0.07,"hi":0},
{"c":"Mental","e":"L","a":100,"y":-0.01,"lo":-0.02,"hi":0},
{"c":"Mental","e":"L","a":105,"y":0,"lo":0,"hi":0},
{"c":"Mental","e":"L","a":110,"y":0,"lo":0,"hi":0}
    ]
  },
  "spacing": -5,
  "vconcat": [
    {
      "data": {"name": "strips"},
      "bounds": "flush",
      "facet": {"column": {"field": "c", "type": "nominal", "title": null, "sort": ["CVD", "Other cancers", "External", "Other causes", "Respiratory", "Lung cancer", "Mental"], "header": {"labels": false}}},
      "spacing": 13,
      "spec": {
        "width": 148,
        "height": 35,
        "view": {"fill": "#D9D9D9", "stroke": "#333333", "strokeWidth": 1},
        "mark": {"type": "text", "fontSize": 18, "font": "Liberation Sans", "color": "#1A1A1A"},
        "encoding": {"text": {"field": "c", "type": "nominal"}}
      }
    },
    {
      "data": {"name": "d"},
      "bounds": "flush",
      "facet": {"column": {"field": "c", "type": "nominal", "title": "Age", "sort": ["CVD", "Other cancers", "External", "Other causes", "Respiratory", "Lung cancer", "Mental"], "header": {"labels": false, "titleOrient": "bottom", "titleFontSize": 22, "titleFont": "Liberation Sans", "titleFontWeight": "normal", "titleColor": "#000000", "titlePadding": 2}}},
      "spacing": 13,
      "spec": {
        "width": 148,
        "height": 409,
        "view": {"stroke": "#333333", "strokeWidth": 1},
        "encoding": {
          "x": {"field": "a", "type": "quantitative", "title": null,
            "scale": {"domain": [21.25, 113.75], "nice": false, "zero": false},
            "axis": {"values": [30, 40, 50, 60, 70, 80, 90, 100, 110], "labelExpr": "datum.value % 20 == 0 ? datum.label : ''", "labelPadding": 4, "labelFontSize": 17, "labelFlush": false, "labelOverlap": false,
              "gridWidth": {"condition": {"test": "datum.value % 20 == 0", "value": 1.4}, "value": 0.7},
              "tickOpacity": {"condition": {"test": "datum.value % 20 == 0", "value": 1}, "value": 0}}
          },
          "color": {"field": "e", "type": "nominal", "title": "Education",
            "scale": {"domain": ["U", "S", "L"], "range": ["#377EB8", "#4DAF4A", "#984EA3"]},
            "legend": {"orient": "none", "legendX": 171, "legendY": 540, "labelExpr": "datum.label == 'U' ? 'University' : datum.label == 'S' ? 'Secondary/post-secondary' : 'Lower than secondary'", "symbolType": "stroke", "symbolOpacity": 1, "symbolStrokeWidth": 5, "labelLimit": 0}}
        },
        "layer": [
          {
            "mark": {"type": "area", "opacity": 0.3, "clip": true, "interpolate": "monotone"},
            "encoding": {
              "y": {"field": "lo", "type": "quantitative", "title": "Cause-specific contributions (yrs)",
                "scale": {"domain": [-1.35, 3.57], "nice": false, "zero": false},
                "axis": {"values": [-1, -0.5, 0, 0.5, 1, 1.5, 2, 2.5, 3, 3.5], "labelExpr": "datum.value % 1 == 0 ? datum.value + '%' : ''", "labelPadding": 7, "titlePadding": 9, "labelOverlap": false,
                  "gridWidth": {"condition": {"test": "datum.value % 1 == 0", "value": 1.4}, "value": 0.7},
                  "tickOpacity": {"condition": {"test": "datum.value % 1 == 0", "value": 1}, "value": 0}}
              },
              "y2": {"field": "hi"}
            }
          },
          {
            "mark": {"type": "line", "strokeWidth": 4, "clip": true, "interpolate": "monotone"},
            "encoding": {
              "y": {"field": "y", "type": "quantitative"}
            }
          }
        ]
      }
    }
  ]
}
